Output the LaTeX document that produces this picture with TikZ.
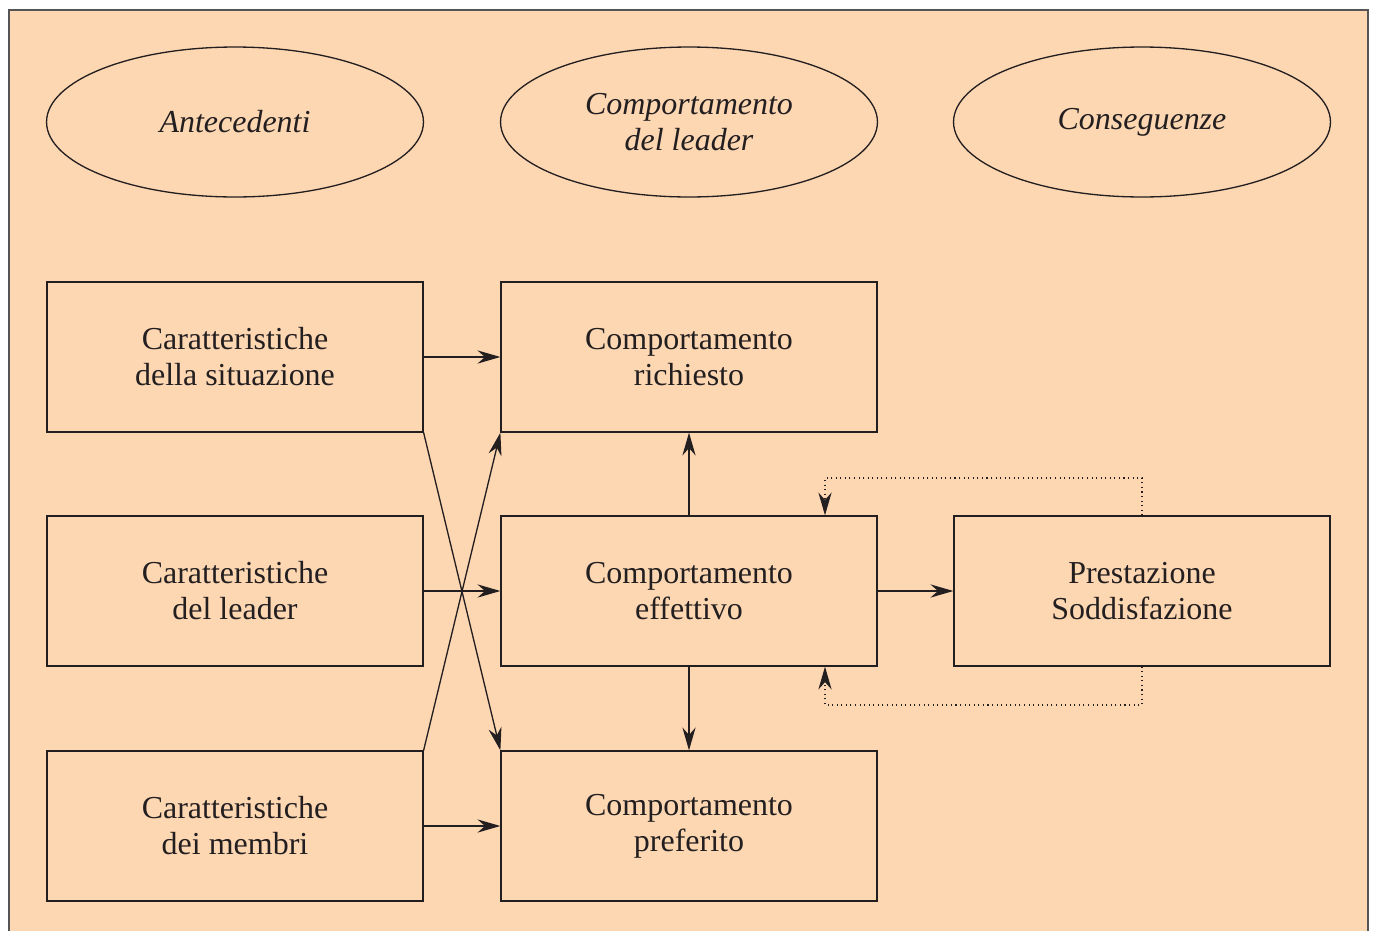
\documentclass[tikz,border=0pt]{standalone}
\usepackage{fontspec}
\setmainfont{Liberation Serif}
\usetikzlibrary{positioning, arrows.meta, shapes.geometric}
\definecolor{peach}{RGB}{253,214,178}
\definecolor{ink}{RGB}{35,31,32}
\definecolor{frame}{RGB}{85,85,85}

\begin{document}
\begin{tikzpicture}
            [x=0.02cm, y=-0.02cm,
             box/.style={draw=ink, rectangle, minimum width=7.52cm, minimum height=3cm,
                         inner sep=0pt, align=center, text=ink, font=\fontsize{18.2}{20.5}\selectfont},
             oval/.style={draw=ink, ellipse, minimum width=7.54cm, minimum height=3cm,
                          inner sep=0pt, align=center, text=ink, font=\fontsize{18.2}{20.5}\selectfont\itshape},
             link/.style={draw=ink, line width=0.75pt},
             fback/.style={draw=ink, line width=0.6pt, dotted},
             line width=0.75pt, >={Stealth[length=13pt, width=7.5pt]}]

            \useasboundingbox (0,0) rectangle (1373,930);
            \fill[peach] (9,10) rectangle (1368,945);
            \draw[frame, line width=1.1pt] (9,945) -- (9,10) -- (1368,10) -- (1368,945);

            % headings
            \node[oval] (ant) at (235,122) {Antecedenti};
            \node[oval] (com) at (689,122) {Comportamento\\del leader};
            \node[oval] (con) at (1142,122) {Conseguenze};

            % antecedents
            \node[box] (sit) at (235,357) {Caratteristiche\\della situazione};
            \node[box] (lea) at (235,591) {Caratteristiche\\del leader};
            \node[box] (mem) at (235,826) {Caratteristiche\\dei membri};

            % behaviour
            \node[box] (ric) at (689,357) {Comportamento\\richiesto};
            \node[box] (eff) at (689,591) {Comportamento\\effettivo};
            \node[box] (pre) at (689,826) {Comportamento\\preferito};

            % consequences
            \node[box] (pst) at (1142,591) {Prestazione\\Soddisfazione};

            \coordinate (up) at (825,478);
            \coordinate (dn) at (825,705);

            \draw [link, ->] (sit) -- (ric);
            \draw [link, ->] (lea) -- (eff);
            \draw [link, ->] (mem) -- (pre);
            \draw [link, ->] (sit.south east) -- (pre.north west);
            \draw [link, ->] (mem.north east) -- (ric.south west);
            \draw [link, ->] (eff) -- (ric);
            \draw [link, ->] (eff) -- (pre);
            \draw [link, ->] (eff) -- (pst);

            \draw [fback, ->] (pst.north) |- (up) -- (up |- eff.north);
            \draw [fback, ->] (pst.south) |- (dn) -- (dn |- eff.south);
        \end{tikzpicture}
\end{document}
